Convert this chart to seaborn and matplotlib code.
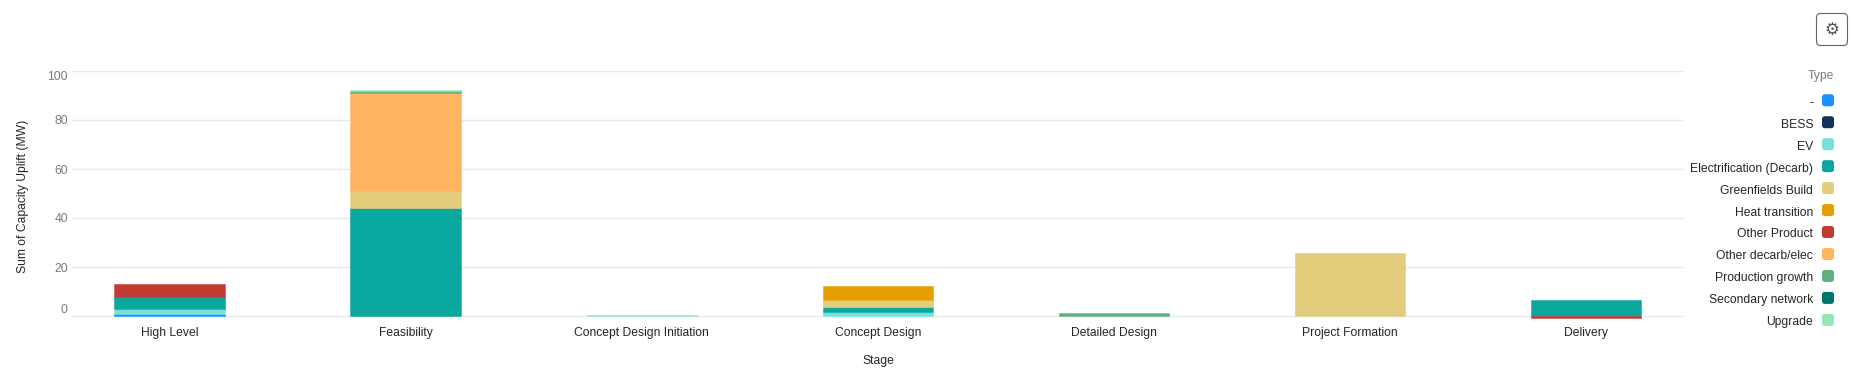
#!/usr/bin/env python3

import matplotlib
matplotlib.use("Agg")
import matplotlib.pyplot as plt
from matplotlib.legend_handler import HandlerPatch
from matplotlib.patches import FancyBboxPatch, Patch
from matplotlib.transforms import IdentityTransform
import numpy as np
import seaborn as sns

W, H = 1853, 376

stages = [
    "High Level",
    "Feasibility",
    "Concept Design Initiation",
    "Concept Design",
    "Detailed Design",
    "Project Formation",
    "Delivery",
]

types = [
    "-",
    "BESS",
    "EV",
    "Electrification (Decarb)",
    "Greenfields Build",
    "Heat transition",
    "Other Product",
    "Other decarb/elec",
    "Production growth",
    "Secondary network",
    "Upgrade",
]
colors = [
    "#1890ff",
    "#13315c",
    "#76e0d9",
    "#0aa79f",
    "#e2cd7d",
    "#e69f00",
    "#c23b33",
    "#ffb55f",
    "#60b17f",
    "#00736b",
    "#96e5b4",
]

dash = [1.0, 0, 0, 0, 0, 0, 0]
bess = [0, 0, 0, 0, 0, 0, 0]
ev = [1.7, 0, 0, 1.8, 0, 0, 0]
electrification = [5.2, 43.9, 0, 1.7, 0, 0, 6.6]
greenfields = [0, 7.2, 0, 3.2, 0, 25.9, 0]
heat = [0, 0, 0, 5.7, 0, 0, 0]
other_product = [5.0, 0, 0, 0, 0, 0, -0.7]
other_decarb = [0, 39.8, 0, 0, 0, 0, 0]
production = [0, 1.0, 0, 0, 1.4, 0, 0]
secondary = [0, 0, 0, 0, 0, 0, 0]
upgrade = [0, 0.2, 0.6, 0, 0, 0, 0]

series = [
    dash, bess, ev, electrification, greenfields, heat,
    other_product, other_decarb, production, secondary, upgrade,
]

sns.set_style("white")
plt.rcParams["font.family"] = ["Liberation Sans", "DejaVu Sans"]

FS = 8.75
DARK = "#262626"
GREY = "#7a7a7a"

fig = plt.figure(figsize=(W / 100, H / 100), dpi=100)
y0, y100 = 316, 71
px = (y0 - y100) / 100
ax = fig.add_axes([72 / W, 1 - (y0 + 2 * px) / H, (1684 - 72) / W, (y0 + 2 * px - y100) / H])

x_all = np.array(stages)
bottom = np.zeros(len(stages))
for vals, col in zip(series, colors):
    vals = np.array(vals, dtype=float)
    base = np.where(vals < 0, 0, bottom)
    keep = vals != 0
    if keep.any():
        sns.barplot(
            x=x_all[keep], y=vals[keep], order=stages, bottom=base[keep], color=col,
            width=0.467, saturation=1, linewidth=0.7,
            edgecolor=matplotlib.colors.to_rgba(col, 0.5), ax=ax, zorder=3,
        )
    bottom = bottom + np.clip(vals, 0, None)

ax.set_xlim(-0.413, 6.415)
ax.set_ylim(-2, 100)
ax.set_yticks([0, 20, 40, 60, 80, 100])
ax.grid(axis="y", color="#e6eaf0", lw=1)
ax.set_axisbelow(True)
sns.despine(ax=ax, left=True, bottom=True, top=True, right=True)
ax.tick_params(axis="x", length=0, pad=4.6, labelsize=FS, labelcolor=DARK)
ax.tick_params(axis="y", length=0, pad=3, labelsize=FS, labelcolor=GREY)
labels = ax.get_yticklabels()
labels[0].set_verticalalignment("bottom")
labels[-1].set_verticalalignment("top")
ax.set_xlabel("Stage", fontsize=FS, color=DARK, labelpad=11)
ax.set_ylabel("Sum of Capacity Uplift (MW)", fontsize=FS, color=DARK, labelpad=13)


def round_swatch(legend, orig_handle, xdescent, ydescent, width, height, fontsize):
    side = 8.64
    return FancyBboxPatch(
        (width - side + 1.2, (height - side) / 2 + 1.2), side - 2.4, side - 2.4,
        boxstyle="round,pad=1.2,rounding_size=2", lw=0,
    )


handles = [Patch(facecolor=c, lw=0) for c in colors]
leg = ax.legend(
    handles, types, title="Type", frameon=False, markerfirst=False, alignment="right",
    loc="upper right", bbox_to_anchor=(1834 / W, 1 - 70.5 / H), bbox_transform=fig.transFigure,
    fontsize=FS, title_fontsize=FS, labelspacing=0.77, handlelength=1.0, handleheight=1.0,
    handletextpad=0.72, borderpad=0, borderaxespad=0,
    handler_map={Patch: HandlerPatch(patch_func=round_swatch)},
)
leg._legend_box.sep = 9.8
leg.get_title().set_color(GREY)
for t in leg.get_texts():
    t.set_color(DARK)

# settings button
fig.add_artist(FancyBboxPatch(
    (1816.5, H - 45.5), 31, 32, transform=IdentityTransform(),
    boxstyle="round,pad=0,rounding_size=4", fc="white", ec="#666666", lw=0.8,
))
fig.text(1831.5 / W, 1 - 30 / H, "\u2699", ha="center", va="center", fontsize=12,
         color="#555555", family="DejaVu Sans")

fig.savefig("out.png", dpi=100)
